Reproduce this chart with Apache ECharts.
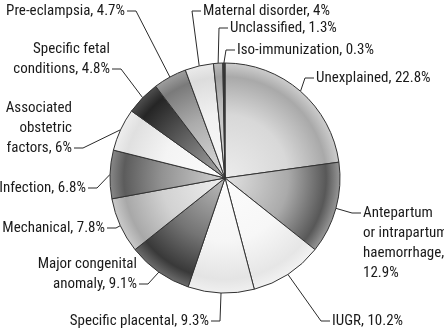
<!DOCTYPE html>
<html>
<head>
<meta charset="utf-8">
<script src="https://cdn.jsdelivr.net/npm/echarts@6/dist/echarts.min.js"></script>
<style>
html,body{margin:0;padding:0;background:#fff;}
#chart{width:444px;height:333px;}
</style>
</head>
<body>
<div id="chart"></div>
<script>
// ---- data ----
const categories = [
  'Unexplained',
  'Antepartum\nor intrapartum\nhaemorrhage',
  'IUGR',
  'Specific placental',
  'Major congenital\nanomaly',
  'Mechanical',
  'Infection',
  'Associated\nobstetric\nfactors',
  'Specific fetal\nconditions',
  'Pre-eclampsia',
  'Maternal disorder',
  'Unclassified',
  'Iso-immunization'
];
const values = [22.8, 12.9, 10.2, 9.3, 9.1, 7.8, 6.8, 6, 4.8, 4.7, 4, 1.3, 0.3];
const breakBeforeValue = [false, true, false, false, false, false, false, false, false, false, false, false, false];

// ---- styles / layout ----
const shades = [
  ['#ececec', '#d8d8d8', '#a9a9a9', '#cdcdcd'],
  ['#e2e2e2', '#aaaaaa', '#585858', '#979797'],
  ['#fcfcfc', '#f7f7f7', '#e6e6e6', '#f2f2f2'],
  ['#fcfcfc', '#f6f6f6', '#e4e4e4', '#f0f0f0'],
  ['#bcbcbc', '#747474', '#393939', '#6c6c6c'],
  ['#efefef', '#d2d2d2', '#a8a8a8', '#cacaca'],
  ['#d2d2d2', '#929292', '#5c5c5c', '#888888'],
  ['#fcfcfc', '#f4f4f4', '#e0e0e0', '#eeeeee'],
  ['#acacac', '#575757', '#252525', '#4e4e4e'],
  ['#e0e0e0', '#ababab', '#7a7a7a', '#9e9e9e'],
  ['#f9f9f9', '#f1f1f1', '#dcdcdc', '#ebebeb'],
  ['#e2e2e2', '#c6c6c6', '#a0a0a0', '#bcbcbc'],
  ['#6a6a6a', '#484848', '#333333', '#444444']
];
// [elbowX, elbowY, side, attachLine]
const labelPos = [
  [305, 78, 'r', 0],
  [352, 213, 'r', 0],
  [321, 321, 'r', 0],
  [220, 321, 'l', 0],
  [148, 284, 'l', 1],
  [116, 228, 'l', 0],
  [97, 188, 'l', 0],
  [83, 148, 'l', 2],
  [121, 69, 'l', 1],
  [136, 11, 'l', 0],
  [192, 11, 'r', 0],
  [219, 28, 'r', 0],
  [226, 50, 'r', 0]
];
const CX = 225, CY = 178, R = 115, LH = 20, STUB = 9, GAP = 11;

const total = values.reduce((a, b) => a + b, 0);
function midPoint(i) {
  let cum = 0;
  for (let k = 0; k < i; k++) cum += values[k];
  const a = (cum + values[i] / 2) / total * 2 * Math.PI;
  return [CX + R * Math.sin(a), CY - R * Math.cos(a)];
}

const seriesData = categories.map((c, i) => ({
  name: c,
  value: values[i],
  itemStyle: {
    color: {
      type: 'radial', x: CX, y: CY, r: R, global: true,
      colorStops: [
        { offset: 0, color: shades[i][0] },
        { offset: 0.55, color: shades[i][1] },
        { offset: 0.88, color: shades[i][2] },
        { offset: 1, color: shades[i][3] }
      ]
    }
  }
}));

const chart = echarts.init(document.getElementById('chart'), null, { renderer: 'canvas' });
chart.setOption({
  animation: false,
  backgroundColor: '#ffffff',
  series: [{
    type: 'pie',
    center: [CX, CY],
    radius: R,
    startAngle: 90,
    clockwise: true,
    avoidLabelOverlap: false,
    data: seriesData,
    itemStyle: { borderColor: '#333333', borderWidth: 1 },
    emphasis: { disabled: true },
    label: {
      show: true,
      position: 'outside',
      fontFamily: 'Roboto',
      fontWeight: 'condensed',
      fontSize: 15,
      lineHeight: LH,
      color: '#1a1a1a',
      formatter: p => p.name + (breakBeforeValue[p.dataIndex] ? ',\n' : ', ') + p.value + '%'
    },
    labelLine: { show: true, length: 10, length2: 10, lineStyle: { color: '#2a2a2a', width: 1 } },
    labelLayout: function (params) {
      const i = params.dataIndex;
      const lp = labelPos[i];
      const ex = lp[0], ey = lp[1], right = lp[2] === 'r', k = lp[3];
      const p0 = midPoint(i);
      return {
        x: right ? ex + GAP : ex - GAP,
        y: ey - (k + 0.5) * LH,
        align: right ? 'left' : 'right',
        verticalAlign: 'top',
        labelLinePoints: [p0, [ex, ey], [right ? ex + STUB : ex - STUB, ey]]
      };
    }
  }]
});
</script>
</body>
</html>
